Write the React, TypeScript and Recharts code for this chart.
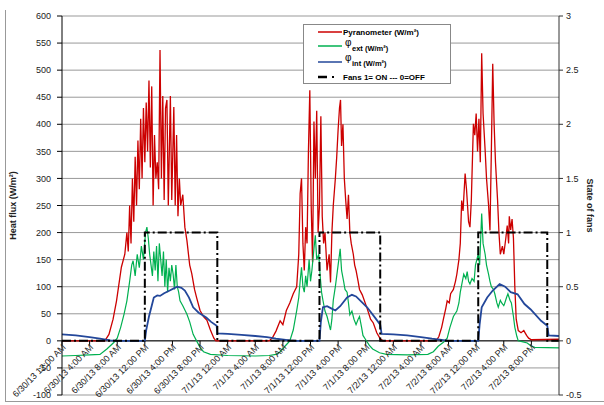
import React from 'react';
import { LineChart, Line, XAxis, YAxis, CartesianGrid, ReferenceLine, Legend } from 'recharts';

const W = 604;
const H = 405;
const PLOT_TOP = 16;
const PLOT_BOTTOM = 395;
// y pixel of the 0 W/m² line, where the time axis crosses
const ZERO_Y = PLOT_TOP + ((PLOT_BOTTOM - PLOT_TOP) * 600) / 700;

const hourTicks = [0, 4, 8, 12, 16, 20, 24, 28, 32, 36, 40, 44, 48, 52, 56, 60, 64, 68];
const hourLabels = [
  '6/30/13 12:00 AM', '6/30/13 4:00 AM', '6/30/13 8:00 AM', '6/30/13 12:00 PM', '6/30/13 4:00 PM', '6/30/13 8:00 PM',
  '7/1/13 12:00 AM', '7/1/13 4:00 AM', '7/1/13 8:00 AM', '7/1/13 12:00 PM', '7/1/13 4:00 PM', '7/1/13 8:00 PM',
  '7/2/13 12:00 AM', '7/2/13 4:00 AM', '7/2/13 8:00 AM', '7/2/13 12:00 PM', '7/2/13 4:00 PM', '7/2/13 8:00 PM',
];
const fluxTicks = [-100, -50, 0, 50, 100, 150, 200, 250, 300, 350, 400, 450, 500, 550, 600];
const fanTicks = [-0.5, 0, 0.5, 1, 1.5, 2, 2.5, 3];

// [hour since 6/30 00:00, W/m²]
const pyranometer: [number, number][] = [
  [0, 0], [6.2, 0], [6.8, 12], [7.4, 40], [7.9, 74], [8.6, 136], [9.1, 160], [9.4, 200], [9.6, 165], [9.8, 250],
  [10.0, 180], [10.2, 300], [10.4, 220], [10.6, 340], [10.8, 250], [11.0, 370], [11.2, 280], [11.4, 410], [11.6, 300],
  [11.8, 430], [12.0, 330], [12.2, 440], [12.4, 350], [12.6, 481], [12.8, 320], [13.0, 470], [13.2, 250], [13.4, 380],
  [13.6, 300], [13.8, 330], [14.0, 280], [14.2, 537], [14.4, 300], [14.6, 452], [14.8, 260], [15.0, 430], [15.2, 445],
  [15.4, 250], [15.7, 452], [15.9, 260], [16.2, 432], [16.4, 250], [16.6, 380], [16.8, 230], [17.0, 300], [17.2, 250],
  [17.5, 270], [17.8, 210], [18.1, 185], [18.5, 140], [18.8, 124], [19.2, 95], [19.5, 80], [20.0, 56], [20.5, 45],
  [21.0, 38], [21.5, 20], [22.0, 5], [22.3, 0],
  [30.0, 0], [30.5, 6], [31.0, 18], [31.6, 37], [32.0, 30], [32.5, 56], [33.0, 70], [33.5, 87], [34.0, 100], [34.3, 160],
  [34.5, 272], [34.7, 300], [34.9, 180], [35.1, 130], [35.3, 210], [35.5, 180], [35.7, 350], [35.9, 463], [36.1, 250],
  [36.3, 145], [36.5, 405], [36.7, 300], [36.9, 425], [37.1, 200], [37.3, 250], [37.5, 415], [37.7, 230], [37.9, 180],
  [38.1, 200], [38.4, 130], [38.7, 160], [38.9, 108], [39.1, 200], [39.3, 250], [39.6, 300], [39.8, 340], [40.0, 390],
  [40.2, 430], [40.35, 445], [40.5, 360], [40.7, 400], [40.9, 300], [41.1, 260], [41.3, 225], [41.5, 270], [41.7, 200],
  [41.9, 180], [42.2, 160], [42.4, 140], [42.6, 130], [42.9, 110], [43.1, 95], [43.5, 85], [44.2, 60], [44.7, 40],
  [45.1, 33], [45.6, 15], [46.1, 4], [46.5, 0],
  [54.2, 0], [54.6, 8], [55.0, 25], [55.3, 43], [55.6, 60], [55.8, 74], [56.1, 70], [56.3, 87], [56.7, 95], [57.0, 110],
  [57.2, 123], [57.5, 150], [57.7, 180], [57.9, 259], [58.1, 240], [58.4, 309], [58.6, 280], [58.9, 220], [59.1, 210],
  [59.3, 260], [59.6, 401], [59.8, 380], [60.0, 420], [60.2, 350], [60.4, 410], [60.6, 330], [60.8, 531], [61.0, 420],
  [61.3, 352], [61.5, 300], [61.8, 250], [62.0, 204], [62.2, 350], [62.4, 512], [62.6, 400], [62.8, 330], [63.1, 260],
  [63.3, 200], [63.5, 160], [63.8, 175], [64.0, 160], [64.3, 190], [64.5, 213], [64.7, 180], [64.8, 230], [65.0, 205],
  [65.2, 225], [65.4, 190], [65.6, 100], [65.8, 40], [66.1, 19], [66.5, 15], [66.9, 19], [67.3, 10], [67.6, 5],
  [68.0, 2], [72.0, 3],
];

const phiExt: [number, number][] = [
  [0, -28], [2, -27], [4, -26], [5.5, -25], [6.5, -15], [7.5, -3], [8.0, 5], [8.5, 25], [9.0, 50], [9.4, 74],
  [9.8, 110], [10.1, 140], [10.3, 148], [10.6, 120], [10.9, 160], [11.2, 135], [11.5, 175], [11.8, 150], [12.1, 200],
  [12.3, 210], [12.5, 190], [12.7, 160], [12.9, 140], [13.1, 120], [13.3, 165], [13.5, 130], [13.7, 175], [13.9, 110],
  [14.1, 180], [14.3, 150], [14.5, 120], [14.7, 165], [14.9, 100], [15.1, 150], [15.3, 90], [15.5, 135], [15.7, 110],
  [15.9, 140], [16.1, 123], [16.3, 95], [16.5, 140], [16.7, 100], [16.9, 90], [17.1, 74], [17.5, 65], [18.1, 49],
  [18.5, 35], [19.0, 12], [19.5, 0], [20.0, -12], [20.5, -20], [21.5, -25], [24, -27], [28, -28], [30, -27],
  [31.0, -25], [31.6, -20], [32.3, -10], [33.0, 0], [33.5, 20], [34.0, 56], [34.3, 80], [34.5, 110], [34.7, 136],
  [34.9, 100], [35.1, 90], [35.3, 120], [35.5, 100], [35.8, 150], [36.0, 110], [36.2, 130], [36.5, 170], [36.7, 195],
  [36.9, 150], [37.2, 160], [37.4, 120], [37.6, 90], [37.8, 75], [38.1, 55], [38.4, 45], [38.7, 30], [38.9, 20],
  [39.1, 40], [39.3, 75], [39.6, 100], [39.8, 120], [40.0, 140], [40.2, 160], [40.3, 170], [40.5, 130], [40.8, 110],
  [41.0, 95], [41.3, 90], [41.5, 70], [41.7, 48], [42.0, 55], [42.3, 40], [42.6, 30], [42.9, 40], [43.1, 45],
  [43.4, 25], [43.6, 10], [44.0, 2], [44.5, -8], [45.0, -15], [46.0, -22], [47.0, -25], [50.0, -26], [53.0, -25],
  [53.8, -20], [54.5, -10], [55.3, -2], [55.8, 5], [56.2, 25], [56.7, 45], [57.2, 55], [57.5, 70], [57.7, 90],
  [58.0, 110], [58.2, 123], [58.5, 115], [58.7, 128], [58.9, 110], [59.1, 105], [59.4, 115], [59.7, 110], [59.9, 140],
  [60.1, 150], [60.3, 160], [60.5, 140], [60.8, 235], [61.0, 180], [61.3, 160], [61.5, 140], [61.8, 123], [62.0, 110],
  [62.2, 100], [62.5, 95], [62.7, 87], [63.0, 70], [63.2, 62], [63.5, 75], [63.7, 70], [64.0, 65], [64.1, 68],
  [64.4, 80], [64.6, 87], [64.9, 75], [65.1, 70], [65.4, 45], [65.6, 25], [65.9, 8], [66.1, 0], [66.8, -2],
  [67.4, -4], [68.0, -10], [68.5, -12], [72.0, -13],
];

const phiInt: [number, number][] = [
  [0, 12], [2, 10], [4, 7], [5.5, 4], [7, 1], [8, 0], [12.0, 0], [12.2, 20], [12.6, 45], [13.0, 65], [13.3, 80],
  [13.8, 84], [14.2, 83], [14.8, 88], [15.6, 93], [16.2, 97], [16.7, 100], [17.3, 98], [17.8, 93], [18.4, 80],
  [19.0, 62], [19.8, 52], [20.9, 43], [21.6, 35], [22.4, 28], [22.5, 14], [24, 13], [26, 11], [28, 9], [29.7, 7],
  [31, 4], [33, 1], [34, 0], [37.3, 0], [37.5, 35], [37.8, 62], [38.4, 64], [39.0, 60], [39.6, 56], [40.3, 64],
  [41.3, 80], [42.0, 85], [42.6, 82], [43.4, 72], [44.2, 62], [45.4, 42], [46.1, 30], [46.3, 13], [48, 12], [50, 10],
  [52, 7], [53.6, 4], [55, 2], [56, 0], [60.3, 0], [60.5, 30], [60.8, 62], [61.6, 80], [62.4, 93], [63.4, 105],
  [64.2, 100], [65.0, 90], [66.0, 86], [67.0, 68], [67.9, 58], [69.4, 37], [70.3, 28], [70.5, 10], [72, 9],
];

// fan state, 1 = on, 0 = off
const fans: [number, number][] = [
  [0, 0], [12.0, 0], [12.0, 1], [22.5, 1], [22.5, 0], [37.3, 0], [37.3, 1], [46.1, 1], [46.1, 0],
  [60.3, 0], [60.3, 1], [70.3, 1], [70.3, 0], [72, 0],
];

const toRows = (pts: [number, number][]) => pts.map(([t, v]) => ({ t, v }));

const RED = '#cc0000';
const GREEN = '#00b050';
const BLUE = '#23479a';
const FAN_DASH = '9 3 2 3';

const XTick = (props: any) => {
  const { x, payload } = props;
  const label = hourLabels[hourTicks.indexOf(payload.value)];
  return (
    <g>
      <line x1={x} x2={x} y1={ZERO_Y} y2={ZERO_Y + 4} stroke="#000" />
      <text
        x={x}
        y={ZERO_Y}
        dy={8}
        dx={-2}
        textAnchor="end"
        fontSize={9}
        fill="#222"
        transform={`rotate(-45 ${x} ${ZERO_Y})`}
      >
        {label}
      </text>
    </g>
  );
};

const renderLegend = () => (
  <svg width={148} height={60} style={{ display: 'block' }}>
    <rect x={0.5} y={0.5} width={147} height={59} fill="#fff" stroke="#888" />
    <line x1={15} x2={39} y1={8} y2={8} stroke={RED} strokeWidth={1.5} />
    <text x={40} y={11} fontSize={8} fontWeight="bold">Pyranometer (W/m²)</text>
    <line x1={15} x2={39} y1={22} y2={22} stroke={GREEN} strokeWidth={1.5} />
    <text x={42} y={22} fontSize={10}>φ</text>
    <text x={49} y={27} fontSize={7.5} fontWeight="bold">ext (W/m²)</text>
    <line x1={15} x2={39} y1={38} y2={38} stroke={BLUE} strokeWidth={1.5} />
    <text x={42} y={37} fontSize={10}>φ</text>
    <text x={49} y={42} fontSize={7.5} fontWeight="bold">int (W/m²)</text>
    <line x1={15} x2={24} y1={53} y2={53} stroke="#000" strokeWidth={2.5} />
    <line x1={29} x2={31} y1={53} y2={53} stroke="#000" strokeWidth={2} />
    <text x={40} y={56} fontSize={8} fontWeight="bold">Fans 1= ON --- 0=OFF</text>
  </svg>
);

export default function App() {
  return (
    <div
      style={{
        position: 'absolute',
        left: 0,
        top: 0,
        width: W,
        height: H,
        background: '#fff',
        fontFamily: "'Liberation Sans', Arial, sans-serif",
      }}
    >
      <div
        style={{
          position: 'absolute',
          left: 5,
          top: 10,
          width: W - 6,
          height: 391,
          borderLeft: '1px solid #999',
          borderRight: '1px solid #999',
          borderBottom: '1px solid #999',
        }}
      />
      <LineChart width={W} height={H} margin={{ top: PLOT_TOP, right: 0, bottom: 0, left: 12 }}>
        <CartesianGrid yAxisId="flux" vertical={false} stroke="#999" strokeWidth={1} />
        <XAxis
          dataKey="t"
          type="number"
          domain={[0, 72]}
          ticks={hourTicks}
          interval={0}
          tick={<XTick />}
          tickLine={false}
          axisLine={false}
          height={10}
          allowDataOverflow
        />
        <YAxis
          yAxisId="flux"
          domain={[-100, 600]}
          ticks={fluxTicks}
          interval={0}
          width={50}
          tickSize={5}
          tickMargin={6}
          tick={{ fontSize: 9, fill: '#222' }}
          axisLine={{ stroke: '#000' }}
          tickLine={{ stroke: '#000' }}
          label={{ value: 'Heat flux (W/m²)', angle: -90, position: 'center', dx: -24, fontSize: 9, fontWeight: 'bold', fill: '#222' }}
        />
        <YAxis
          yAxisId="fan"
          orientation="right"
          domain={[-0.5, 3]}
          ticks={fanTicks}
          interval={0}
          width={45}
          tickSize={4}
          tickMargin={3}
          tick={{ fontSize: 9, fill: '#222' }}
          axisLine={{ stroke: '#333' }}
          tickLine={{ stroke: '#333' }}
          label={{ value: 'State of fans', angle: 90, position: 'center', dx: 9, fontSize: 9, fontWeight: 'bold', fill: '#222' }}
        />
        <ReferenceLine yAxisId="flux" y={0} stroke="#000" strokeWidth={1} />
        <Line yAxisId="flux" data={toRows(pyranometer)} dataKey="v" type="linear" stroke={RED} strokeWidth={1.3} dot={false} isAnimationActive={false} />
        <Line yAxisId="flux" data={toRows(phiExt)} dataKey="v" type="linear" stroke={GREEN} strokeWidth={1.2} dot={false} isAnimationActive={false} />
        <Line yAxisId="flux" data={toRows(phiInt)} dataKey="v" type="linear" stroke={BLUE} strokeWidth={1.8} dot={false} isAnimationActive={false} />
        <Line yAxisId="fan" data={toRows(fans)} dataKey="v" type="linear" stroke="#000" strokeWidth={2} strokeDasharray={FAN_DASH} dot={false} isAnimationActive={false} />
        <Legend
          content={renderLegend}
          layout="vertical"
          align="center"
          verticalAlign="middle"
          wrapperStyle={{ left: 303, top: 24, width: 148, height: 60 }}
        />
      </LineChart>
    </div>
  );
}
